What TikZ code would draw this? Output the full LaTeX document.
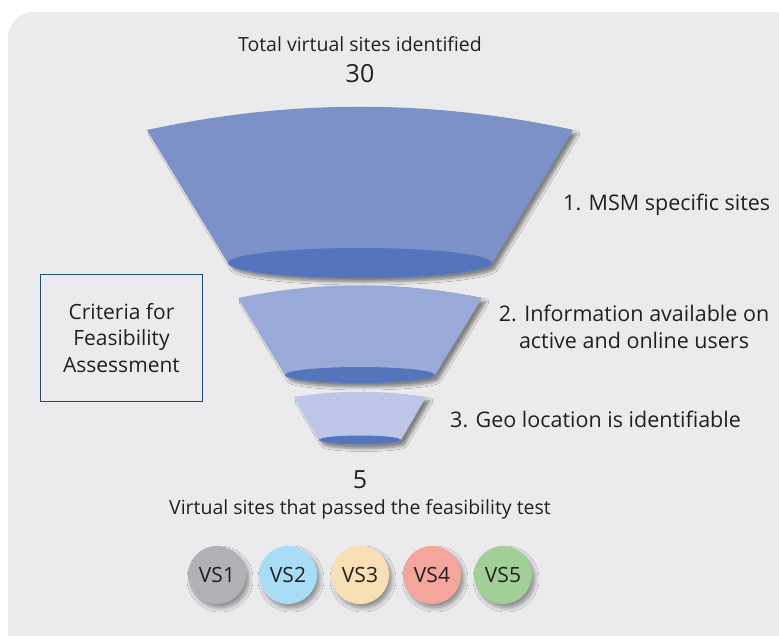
\documentclass[tikz,border=0pt]{standalone}
\usepackage{fontspec}
\setmainfont{Open Sans}
\usetikzlibrary{shadows.blur}
\definecolor{bgc}{HTML}{EBEBED}
\definecolor{f1}{HTML}{7B91C8}
\definecolor{f2}{HTML}{9AAAD8}
\definecolor{f3}{HTML}{BCC6E6}
\definecolor{ell}{HTML}{5474BB}
\definecolor{boxc}{HTML}{1D4F6E}
\definecolor{txt}{HTML}{231F20}
\definecolor{c1}{HTML}{B1B2B6}
\definecolor{c2}{HTML}{A9DCF6}
\definecolor{c3}{HTML}{F8DFB5}
\definecolor{c4}{HTML}{F4A59C}
\definecolor{c5}{HTML}{A2CF98}
\tikzset{
  fshadow/.style={blur shadow={shadow xshift=4pt,shadow yshift=-4pt,shadow blur steps=6,shadow blur radius=3pt,shadow opacity=45}},
  lbl/.style={text=txt,inner sep=0pt,font=\fontsize{19.5}{22}\selectfont},
  rlbl/.style={text=txt,inner sep=0pt,font=\fontsize{21.5}{27}\selectfont},
  vs/.style={circle,minimum size=58pt,inner sep=0pt,text=txt,font=\fontsize{21}{22}\selectfont,
    blur shadow={shadow xshift=3pt,shadow yshift=-4pt,shadow blur steps=8,shadow blur radius=4pt,shadow opacity=40}},
}
\begin{document}
\begin{tikzpicture}[x=1pt,y=-1pt]
\useasboundingbox (0,0) rectangle (779,636);
\fill[bgc,rounded corners=26pt] (8,12) rectangle (800,660);
% funnel 1
\path[fill=f1,fshadow] (147,130) .. controls (290,99) and (430,99) .. (573,130)
  -- (492,263) arc[start angle=0,end angle=180,x radius=132,y radius=15] -- cycle;
\fill[ell] (360,263) ellipse[x radius=132,y radius=15];
% funnel 2
\path[fill=f2,fshadow] (238,298) .. controls (320,281) and (400,281) .. (482,298)
  -- (435,375) arc[start angle=0,end angle=180,x radius=75,y radius=8] -- cycle;
\fill[ell] (360,375) ellipse[x radius=75,y radius=8];
% funnel 3
\path[fill=f3,fshadow] (294,397) .. controls (338,390) and (382,390) .. (426,397)
  -- (401,440) arc[start angle=0,end angle=180,x radius=41,y radius=4.5] -- cycle;
\fill[ell] (360,440) ellipse[x radius=41,y radius=4.5];
% texts
\node[lbl] (total) at (360,44) {Total virtual sites identified};
\node[lbl,font=\fontsize{25}{28}\selectfont] (n30) at (360,74) {30};
\node[rlbl,anchor=west] (l1) at (563,205) {1. MSM specific sites};
\node[rlbl,align=center] (l2) at (634,327) {2. Information available on\\active and online users};
\node[rlbl,anchor=west] (l3) at (450,419) {3. Geo location is identifiable};
\node[lbl,font=\fontsize{25}{28}\selectfont] (n5) at (360,480) {5};
\node[lbl] (passed) at (360,509) {Virtual sites that passed the feasibility test};
\node[draw=boxc,line width=1.6pt,minimum width=162pt,minimum height=127pt,align=center,
  text=txt,font=\fontsize{21}{26.5}\selectfont] (crit) at (121.5,338) {Criteria for\\Feasibility\\Assessment};
% circles
\node[vs,fill=c1] (vs1) at (217,575) {VS1};
\node[vs,fill=c2] (vs2) at (288,575) {VS2};
\node[vs,fill=c3] (vs3) at (360,575) {VS3};
\node[vs,fill=c4] (vs4) at (432,575) {VS4};
\node[vs,fill=c5] (vs5) at (503,575) {VS5};
\end{tikzpicture}
\end{document}
